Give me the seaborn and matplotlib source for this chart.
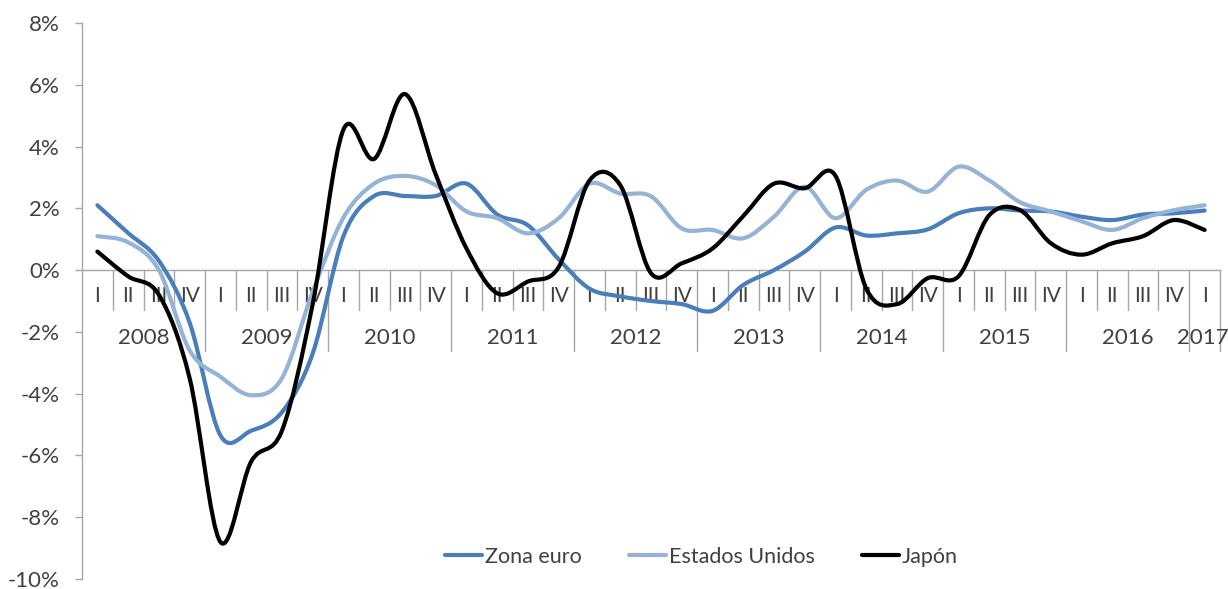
import numpy as np
import pandas as pd
import matplotlib
matplotlib.use("Agg")
import matplotlib.pyplot as plt
import seaborn as sns
from matplotlib.path import Path
from matplotlib.patches import PathPatch
from matplotlib.lines import Line2D

# ---------------- data ----------------
years = ["2008", "2009", "2010", "2011", "2012", "2013", "2014", "2015", "2016", "2017"]
quarters = ["I", "II", "III", "IV"] * 9 + ["I"]

zona_euro = [2.1, 1.2, 0.3, -1.7, -5.35, -5.2, -4.6, -2.7, 1.1, 2.4, 2.4, 2.4,
             2.8, 1.8, 1.45, 0.35, -0.6, -0.85, -1.0, -1.1, -1.32, -0.48, 0.0, 0.6,
             1.38, 1.12, 1.19, 1.32, 1.84, 2.0, 1.93, 1.9, 1.73, 1.62, 1.8, 1.84, 1.93]
estados_unidos = [1.1, 0.9, 0.0, -2.6, -3.45, -4.05, -3.5, -0.7, 1.7, 2.8, 3.05, 2.75,
                  1.9, 1.68, 1.19, 1.68, 2.8, 2.48, 2.39, 1.35, 1.3, 1.03, 1.73, 2.7,
                  1.68, 2.6, 2.9, 2.54, 3.35, 2.9, 2.2, 1.9, 1.58, 1.3, 1.68, 1.94, 2.1]
japon = [0.6, -0.2, -0.8, -3.5, -8.8, -6.2, -5.2, -1.1, 4.55, 3.6, 5.7, 3.1,
         0.7, -0.75, -0.37, 0.1, 2.9, 2.75, -0.1, 0.22, 0.7, 1.75, 2.8, 2.65,
         3.05, -0.6, -1.1, -0.26, -0.2, 1.78, 1.94, 0.87, 0.5, 0.87, 1.1, 1.62, 1.3]

series_names = ["Zona euro", "Estados Unidos", "Japón"]
series_values = [zona_euro, estados_unidos, japon]
colors = ["#4a7ebb", "#95b3d7", "#000000"]
yticks = list(range(-10, 9, 2))

# ---------------- style ----------------
sns.set_theme(style="white")
plt.rcParams["font.family"] = ["Lato", "DejaVu Sans"]
text_color = "#404040"
axis_color = "#a6a6a6"

fig = plt.figure(figsize=(12.28, 5.89), dpi=100)
y_top, y_bot = 23, 579
ax = fig.add_axes([82 / 1228, 1 - y_bot / 589, (1220 - 82) / 1228, (y_bot - y_top) / 589])
px_per_unit = (y_bot - y_top) / 18.0

n = len(quarters)
ax.set_xlim(-0.5, n - 0.5)
ax.set_ylim(-10, 8)


def smooth_path(xs, ys):
    pts = np.column_stack([xs, ys]).astype(float)
    m = len(pts)
    verts = [tuple(pts[0])]
    codes = [Path.MOVETO]
    for i in range(m - 1):
        p0 = pts[i - 1] if i > 0 else pts[i]
        p1 = pts[i]
        p2 = pts[i + 1]
        p3 = pts[i + 2] if i + 2 < m else pts[i + 1]
        c1 = p1 + (p2 - p0) / 6.0
        c2 = p2 - (p3 - p1) / 6.0
        verts += [tuple(c1), tuple(c2), tuple(p2)]
        codes += [Path.CURVE4, Path.CURVE4, Path.CURVE4]
    return Path(verts, codes)


df = pd.DataFrame({"idx": np.arange(n)})
for name, vals in zip(series_names, series_values):
    df[name] = vals

handles = []
for name, col in zip(series_names, colors):
    patch = PathPatch(smooth_path(df["idx"].values, df[name].values), fill=False,
                      edgecolor=col, lw=3.0, capstyle="round", joinstyle="round",
                      zorder=3)
    ax.add_patch(patch)
    handles.append(Line2D([0], [0], color=col, lw=3.0, solid_capstyle="round"))

# ---------------- axes styling ----------------
sns.despine(ax=ax, top=True, right=True)
ax.spines["left"].set_color(axis_color)
ax.spines["left"].set_linewidth(1.0)
ax.spines["bottom"].set_position(("data", 0))
ax.spines["bottom"].set_color(axis_color)
ax.spines["bottom"].set_linewidth(1.0)

ax.set_yticks(yticks)
ax.set_yticklabels([f"{v}%" for v in yticks])
ax.tick_params(axis="y", direction="out", length=5, width=1, color=axis_color,
               labelsize=16, labelcolor=text_color, pad=11, left=True)
ax.set_xticks([])

# category separators
short_len = 40 / px_per_unit
long_len = 81 / px_per_unit
for b in range(1, n + 1):
    xb = b - 0.5
    is_year = (b % 4 == 0) or b == n
    ax.plot([xb, xb], [0, -(long_len if is_year else short_len)],
            color=axis_color, lw=1.0, zorder=1, clip_on=False)

# quarter labels
for i, q in enumerate(quarters):
    ax.text(i, -26 / px_per_unit, q, ha="center", va="center", fontsize=15,
            color=text_color, zorder=2)

# year labels
for k, yr in enumerate(years):
    start = 4 * k
    end = min(4 * k + 3, n - 1)
    xc = (start + end) / 2.0
    if start == end:
        xc -= 0.05
    ax.text(xc, -68 / px_per_unit, yr, ha="center", va="center",
            fontsize=16, color=text_color, zorder=2)

leg = fig.legend(handles, series_names, loc="center", bbox_to_anchor=(0.571, 1 - 557 / 589),
                 ncol=3, frameon=False, fontsize=15.5, handlelength=1.75,
                 handletextpad=0.1, columnspacing=2.2)
for t in leg.get_texts():
    t.set_color(text_color)

fig.savefig("out.png", dpi=100)
